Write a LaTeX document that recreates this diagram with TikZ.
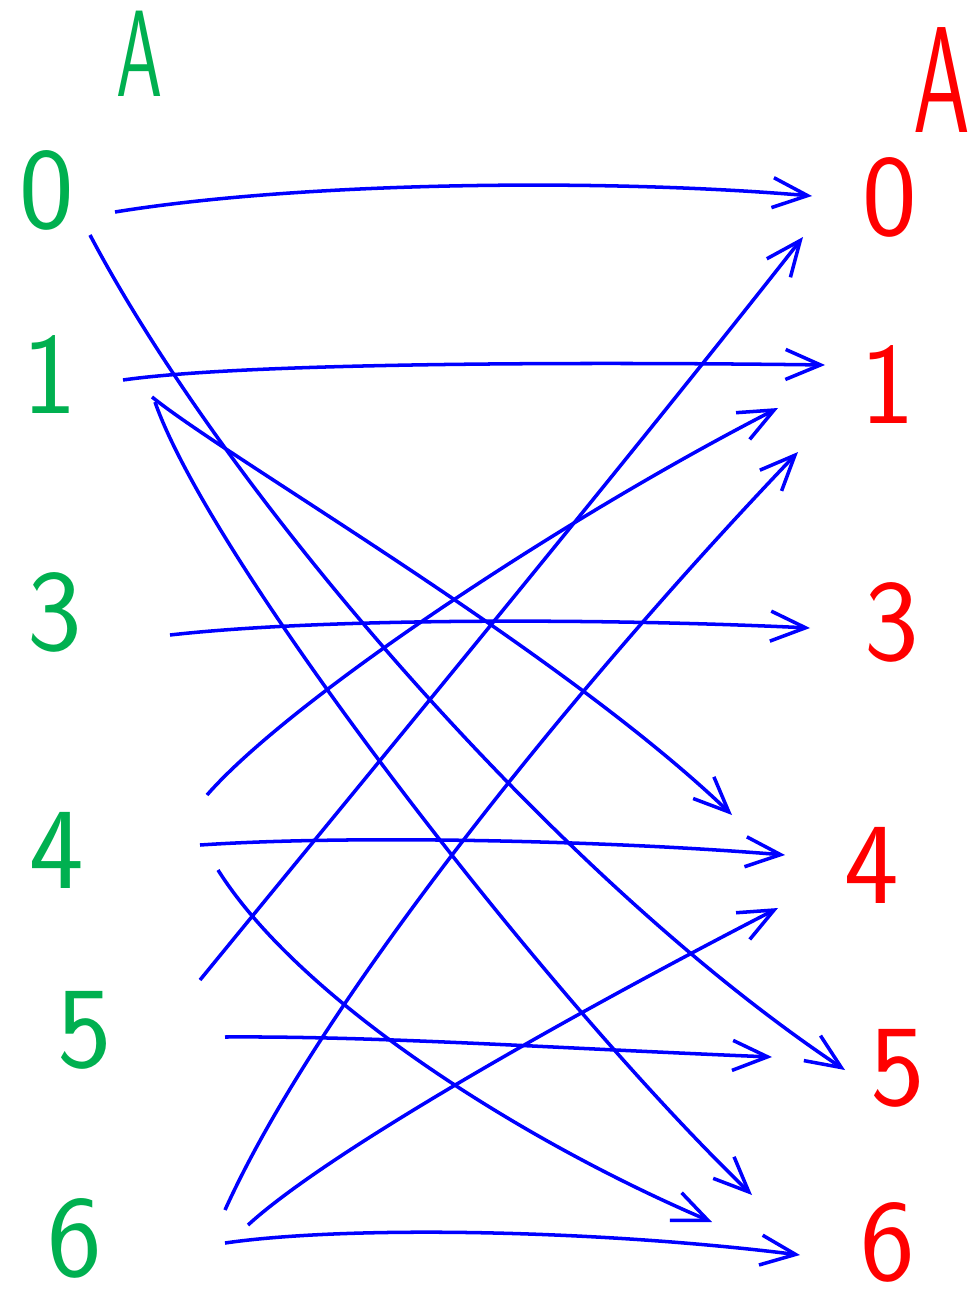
\documentclass[tikz,border=0pt]{standalone}
\usepackage{tikz}
\usetikzlibrary{arrows.meta, calc}
\definecolor{setgreen}{RGB}{0,176,80}
\newcommand{\narrowA}{\scalebox{0.6}[1]{A}}
\tikzset{
  dom/.style={font=\fontsize{33}{33}\selectfont\sffamily, text=setgreen, inner sep=0pt},
  cod/.style={font=\fontsize{33}{33}\selectfont\sffamily, text=red, inner sep=0pt},
  maparrow/.style={-{Straight Barb[length=3.5mm,width=3mm]}, line width=1pt, color=blue}
}
\begin{document}
\begin{tikzpicture}[x=0.01cm, y=-0.01cm]
  \useasboundingbox (0,0) rectangle (977,1297);

  % domain
  \node[dom, font=\fontsize{35}{35}\selectfont\sffamily] (LA) at (140,54) {\narrowA};
  \node[dom] (L0) at (47,190) {0};
  \node[dom] (L1) at (50,375) {1};
  \node[dom] (L3) at (55,612) {3};
  \node[dom] (L4) at (57,850) {4};
  \node[dom] (L5) at (85,1030) {5};
  \node[dom] (L6) at (75,1238) {6};

  % codomain
  \node[cod, font=\fontsize{43}{43}\selectfont\sffamily] (RA) at (942,80) {\narrowA};
  \node[cod] (R0) at (890,197) {0};
  \node[cod] (R1) at (888,385) {1};
  \node[cod] (R3) at (892,622) {3};
  \node[cod] (R4) at (872,865) {4};
  \node[cod] (R5) at (898,1068) {5};
  \node[cod] (R6) at (888,1242) {6};

  \draw[maparrow] ($(L0)+(68,22)$) .. controls (300,182) and (600,178) .. ($(R0)+(-78,-1)$);
  \draw[maparrow] ($(L0)+(43,45)$) .. controls (230,500) and (560,880) .. ($(R5)+(-53,2)$);
  \draw[maparrow] ($(L1)+(73,5)$) .. controls (250,362) and (600,362) .. ($(R1)+(-63,-20)$);
  \draw[maparrow] ($(L1)+(102,22)$) .. controls (230,460) and (560,650) .. ($(R4)+(-140,-50)$);
  \draw[maparrow] ($(L1)+(105,27)$) .. controls (210,560) and (540,990) .. ($(R6)+(-136,-47)$);
  \draw[maparrow] ($(L3)+(115,23)$) .. controls (320,618) and (600,618) .. ($(R3)+(-82,6)$);
  \draw[maparrow] ($(L4)+(150,-55)$) .. controls (290,700) and (560,520) .. ($(R1)+(-110,23)$);
  \draw[maparrow] ($(L4)+(143,-5)$) .. controls (350,835) and (600,840) .. ($(R4)+(-87,-10)$);
  \draw[maparrow] ($(L4)+(161,20)$) .. controls (300,1000) and (520,1140) .. ($(R6)+(-176,-20)$);
  \draw[maparrow] ($(L5)+(115,-50)$) .. controls (380,760) and (620,470) .. ($(R0)+(-87,40)$);
  \draw[maparrow] ($(L5)+(140,7)$) .. controls (380,1036) and (550,1048) .. ($(R5)+(-126,-11)$);
  \draw[maparrow] ($(L6)+(150,-28)$) .. controls (320,1000) and (580,680) .. ($(R1)+(-90,67)$);
  \draw[maparrow] ($(L6)+(173,-13)$) .. controls (330,1150) and (580,1010) .. ($(R4)+(-94,43)$);
  \draw[maparrow] ($(L6)+(150,5)$) .. controls (350,1225) and (600,1230) .. ($(R6)+(-88,13)$);
\end{tikzpicture}
\end{document}
